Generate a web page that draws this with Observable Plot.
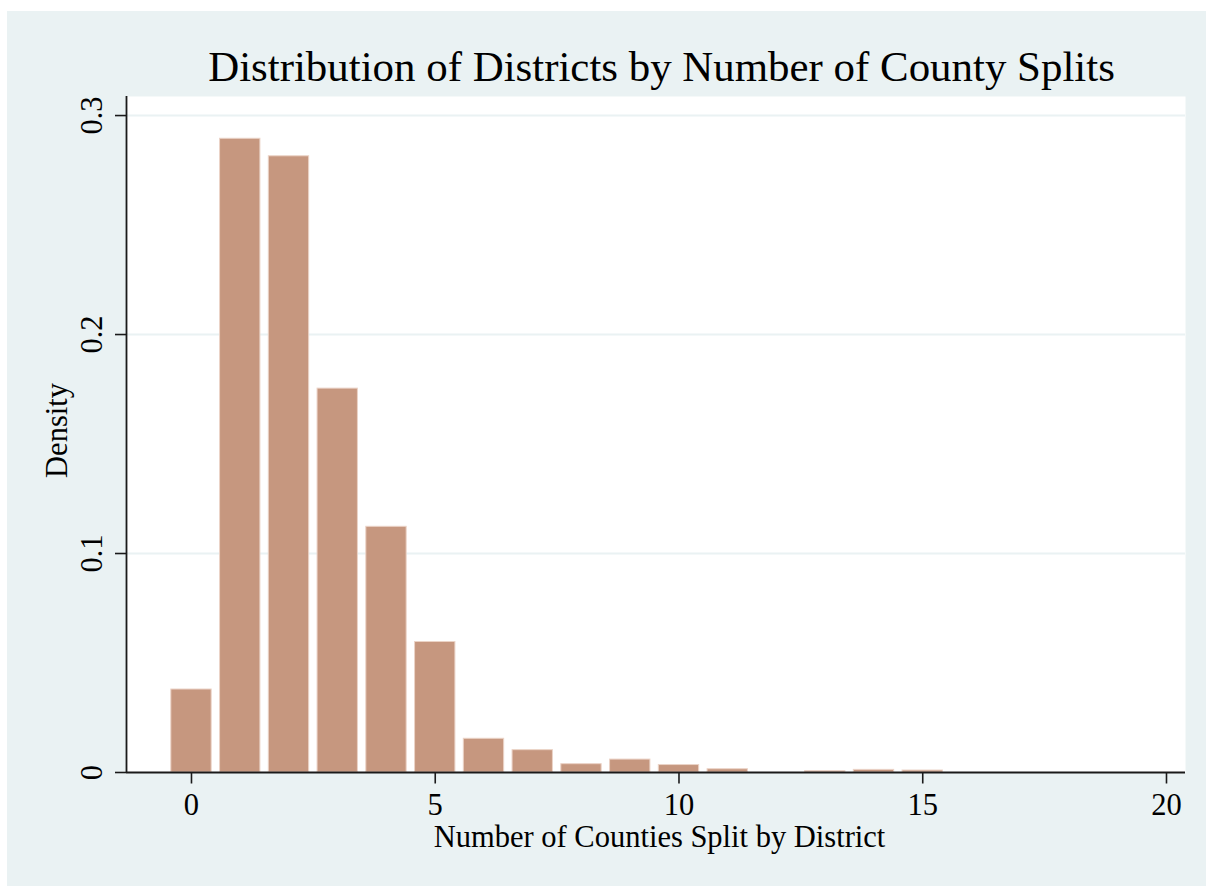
<!DOCTYPE html>
<html>
<head>
<meta charset="utf-8">
<script src="https://cdn.jsdelivr.net/npm/d3@7"></script>
<script src="https://cdn.jsdelivr.net/npm/@observablehq/plot@0.6"></script>
<style>
  html, body { margin: 0; padding: 0; background: #ffffff; overflow: hidden; }
  #panel { position: absolute; left: 7px; top: 11px; width: 1199px; height: 875px; background: #eaf2f3; }
  #panel svg { display: block; }
</style>
</head>
<body>
<div id="panel"></div>
<script>
// Data
const splits = [0, 1, 2, 3, 4, 5, 6, 7, 8, 9, 10, 11, 12, 13, 14, 15];
const density = [0.0379, 0.2894, 0.2814, 0.1753, 0.1122, 0.0596, 0.0154, 0.0102, 0.0038, 0.0059, 0.0034, 0.0015, 0, 0.0006, 0.0012, 0.0009];
const xTicks = [0, 5, 10, 15, 20];
const yTicks = [0, 0.1, 0.2, 0.3];
const titleText = "Distribution of Districts by Number of County Splits";
const xLabel = "Number of Counties Split by District";
const yLabel = "Density";

const data = splits.map((k, i) => ({k, v: density[i]}));
const xDomain = [-1.333, 20.39];
const yDomain = [0, 0.3087];
const ink = "#1a1a1a";
const fs = 30.5;

const chart = Plot.plot({
  width: 1199,
  height: 875,
  marginLeft: 119,
  marginRight: 21,
  marginTop: 85,
  marginBottom: 114,
  style: {background: "#eaf2f3", fontFamily: "'Liberation Serif', 'Times New Roman', serif", color: "black"},
  x: {domain: xDomain, axis: null},
  y: {domain: yDomain, axis: null},
  marks: [
    Plot.frame({fill: "white", stroke: null}),
    Plot.gridY(yTicks.filter(d => d > 0), {stroke: "#eaf2f3", strokeOpacity: 1, strokeWidth: 2}),
    Plot.rectY(data, {
      x1: d => d.k - 0.5, x2: d => d.k + 0.5, y1: 0, y2: "v",
      fill: "#c6977f", stroke: "#ebd3c7", strokeWidth: 1,
      insetLeft: 4.2, insetRight: 4.2
    }),
    Plot.axisX({ticks: xTicks, tickSize: 11.5, tickFormat: () => "", stroke: ink, strokeWidth: 1.6, label: null}),
    Plot.axisY({ticks: yTicks, tickSize: 11, tickFormat: () => "", stroke: ink, strokeWidth: 1.6, label: null}),
    Plot.ruleY([0], {stroke: ink, strokeWidth: 1.8}),
    Plot.ruleX([xDomain[0]], {stroke: ink, strokeWidth: 1.8}),
    Plot.text(yTicks, {
      x: xDomain[0], y: d => d, text: d => (d === 0 ? "0" : String(d)),
      rotate: -90, dx: -25, lineAnchor: "bottom", textAnchor: "middle", fontSize: fs, fill: "black"
    }),
    Plot.text(xTicks, {
      x: d => d, y: 0, text: d => String(d),
      dy: 42.5, lineAnchor: "bottom", textAnchor: "middle", fontSize: fs, fill: "black"
    }),
    Plot.text([yLabel], {
      frameAnchor: "left", rotate: -90, dx: -60, dy: -4, lineAnchor: "bottom", textAnchor: "middle", fontSize: fs, fill: "black"
    }),
    Plot.text([xLabel], {
      frameAnchor: "bottom", dx: 3.5, dy: 74.7, lineAnchor: "bottom", textAnchor: "middle", fontSize: fs, fill: "black"
    }),
    Plot.text([titleText], {
      frameAnchor: "top", dx: 5.5, dy: -16, lineAnchor: "bottom", textAnchor: "middle", fontSize: 42.9, fill: "black"
    })
  ]
});
document.getElementById("panel").appendChild(chart);
</script>
</body>
</html>
